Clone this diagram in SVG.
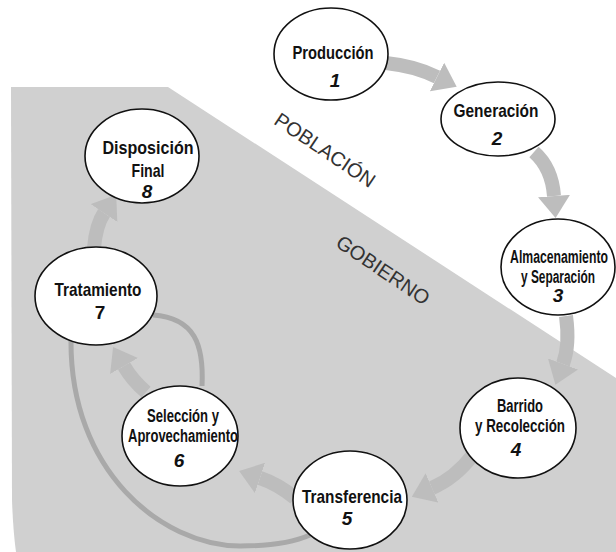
<svg xmlns="http://www.w3.org/2000/svg" width="616" height="552" viewBox="0 0 616 552">
<style>
.bg{fill:#d0d0d0}
.node ellipse{fill:#fff;stroke:#111;stroke-width:1.6}
.t{font-family:"Liberation Sans",Arial,sans-serif;font-weight:bold;font-size:19px;fill:#111;text-anchor:middle}
.s{font-size:18px}
.n{font-style:italic}
.arrow{fill:none;stroke:#bdbdbd;stroke-width:14}
.loop{fill:none;stroke:#a9a9a9;stroke-width:5}
.lbl{font-family:"Liberation Sans",Arial,sans-serif;font-size:20px;fill:#333;text-anchor:middle;dominant-baseline:central}
</style>
<defs>
<marker id="ah" viewBox="0 -16 22 32" refX="0" refY="0" markerWidth="22" markerHeight="32" markerUnits="userSpaceOnUse" orient="auto">
<path d="M0,-16 L22,0 L0,16 z" fill="#bdbdbd"/>
</marker>
</defs>
<path class="bg" d="M11,87 L168,87 L616,378 L616,552 L16,552 Q13,530 12,500 Z"/>
<text class="lbl" transform="translate(325,150) rotate(34)">POBLACIÓN</text>
<text class="lbl" transform="translate(383,270) rotate(34)">GOBIERNO</text>
<g id="connectors">
<path class="loop" d="M153,315 C195,318 204,345 202,386"/>
<path class="loop" d="M71,340 C70,470 160,545 240,546 Q285,546 310,535"/>
<path class="arrow" marker-end="url(#ah)" d="M386,63 Q415,66 437,77"/>
<path class="arrow" marker-end="url(#ah)" d="M534,152 Q552,168 554,196"/>
<path class="arrow" marker-end="url(#ah)" d="M566,316 Q570,345 563,364"/>
<path class="arrow" marker-end="url(#ah)" d="M472,456 Q455,478 432,488"/>
<path class="arrow" marker-end="url(#ah)" d="M295,498 Q278,484 260,478"/>
<path class="arrow" marker-end="url(#ah)" d="M146,392 Q132,380 124,366"/>
<path class="arrow" marker-end="url(#ah)" d="M94,248 Q96,225 104,213"/>
</g>
<g id="node1" class="node">
<ellipse cx="331" cy="54" rx="57" ry="46"/>
<text class="t" x="333" y="59" textLength="81" lengthAdjust="spacingAndGlyphs">Producción</text>
<text class="t n" x="335" y="87">1</text>
</g>
<g id="node2" class="node">
<ellipse cx="498" cy="119" rx="57" ry="37"/>
<text class="t" x="496" y="117" textLength="85" lengthAdjust="spacingAndGlyphs">Generación</text>
<text class="t n" x="497" y="145">2</text>
</g>
<g id="node3" class="node">
<ellipse cx="558" cy="267" rx="57" ry="48"/>
<text class="t s" transform="translate(559,263) scale(0.68,1)">Almacenamiento</text>
<text class="t s" transform="translate(558,283) scale(0.66,1)">y Separación</text>
<text class="t n" x="558" y="302">3</text>
</g>
<g id="node4" class="node">
<ellipse cx="518" cy="428" rx="58" ry="50"/>
<text class="t s" x="520" y="412" textLength="46" lengthAdjust="spacingAndGlyphs">Barrido</text>
<text class="t s" x="520" y="432" textLength="90" lengthAdjust="spacingAndGlyphs">y Recolección</text>
<text class="t n" x="516" y="456">4</text>
</g>
<g id="node5" class="node">
<ellipse cx="350" cy="500" rx="57" ry="49"/>
<text class="t" x="352" y="503" textLength="100" lengthAdjust="spacingAndGlyphs">Transferencia</text>
<text class="t n" x="347" y="525">5</text>
</g>
<g id="node6" class="node">
<ellipse cx="180" cy="436" rx="58" ry="50"/>
<text class="t s" x="183" y="422" textLength="72" lengthAdjust="spacingAndGlyphs">Selección y</text>
<text class="t s" x="183" y="442" textLength="110" lengthAdjust="spacingAndGlyphs">Aprovechamiento</text>
<text class="t n" x="179" y="467">6</text>
</g>
<g id="node7" class="node">
<ellipse cx="96" cy="296" rx="61" ry="49"/>
<text class="t" x="98" y="296" textLength="87" lengthAdjust="spacingAndGlyphs">Tratamiento</text>
<text class="t" x="100" y="319">7</text>
</g>
<g id="node8" class="node">
<ellipse cx="142" cy="156" rx="57" ry="47"/>
<text class="t" x="148" y="154" textLength="91" lengthAdjust="spacingAndGlyphs">Disposición</text>
<text class="t" x="148" y="177" textLength="33" lengthAdjust="spacingAndGlyphs">Final</text>
<text class="t n" x="147" y="198">8</text>
</g>
</svg>
